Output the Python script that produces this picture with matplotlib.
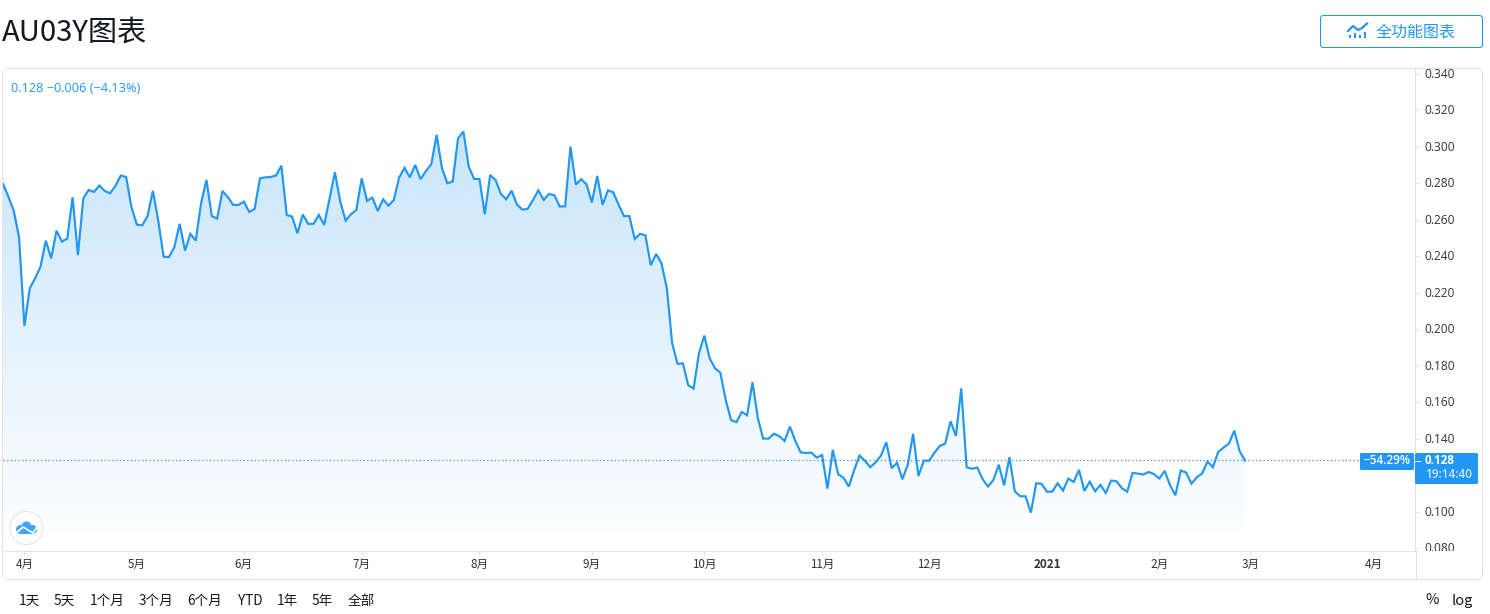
import numpy as np
import matplotlib
matplotlib.use("Agg")
import matplotlib.pyplot as plt
from matplotlib.patches import FancyBboxPatch, Circle, Rectangle, Polygon
from matplotlib.transforms import Bbox, ScaledTranslation

CJK = ['Noto Sans CJK SC', 'DejaVu Sans']
NUM = ['Open Sans', 'Noto Sans CJK SC', 'DejaVu Sans']
plt.rcParams['font.family'] = CJK

title = "AU03Y图表"
button_label = "全功能图表"
legend_text = "0.128 −0.006 (−4.13%)"
change_label = "−54.29%"
last_label = "0.128"
countdown = "19:14:40"
ranges = ["1天", "5天", "1个月", "3个月", "6个月", "YTD", "1年", "5年", "全部"]

values_spring = [
    .2797,.2727,.2651,.2504,.2018,.2225,.2279,.2343,.2486,.2389,.2541,.2481,.2497,.2724,.2407,.2718,
    .2764,.2753,.2788,.2759,.2746,.2786,.2843,.2835,.2669,.2574,.2570,.2621,.2759,.2596,.2398,.2396,
    .2450,.2578,.2431,.2523,.2486,.2691,.2819,.2621,.2607,.2759,.2724,.2682,.2682,.2700,.2643,.2660,
    .2828,.2833,.2835,.2843,.2897,.2627,.2618,.2526,.2629,.2578,.2578,.2627,.2572,.2718,.2861,.2700,
    .2596,.2631,.2654,.2828,.2704,.2722,.2649,.2713,.2678,.2709,.2832,.2885,.2833,.2901,.2823]
values_summer = [
    .2868,.2905,.3066,.2883,.2801,.2810,.3047,.3084,.2892,.2824,.2824,.2631,.2846,.2819,.2742,.2713,
    .2760,.2685,.2656,.2660,.2709,.2762,.2709,.2742,.2735,.2673,.2674,.3002,.2793,.2823,.2795,.2695,
    .2841,.2682,.2762,.2751,.2682,.2621,.2621,.2495,.2523,.2515,.2351,.2413,.2362,.2225]
values_autumn = [
    .1923,.1810,.1813,.1693,.1674,.1868,.1965,.1841,.1786,.1762,.1612,.1502,.1490,.1546,.1528,.1709,
    .1512,.1400,.1400,.1427,.1413,.1387,.1466,.1387,.1325,.1321,.1323,.1296,.1310,.1125,.1338,.1204,
    .1186,.1137,.1228,.1307,.1279,.1243,.1270,.1307,.1380,.1237,.1268,.1177,.1256,.1426,.1195,.1279,
    .1279,.1323,.1360,.1373,.1495,.1415,.1676]
values_winter = [
    .1243,.1235,.1241,.1177,.1137,.1173,.1257,.1144,.1298,.1111,.1084,.1084,.0994,.1155,.1152,.1109,
    .1109,.1155,.1115,.1181,.1162,.1228,.1113,.1164,.1111,.1146,.1102,.1170,.1166,.1128,.1109,.1212,
    .1208,.1203,.1217,.1205,.1181,.1223,.1144,.1089,.1225,.1214,.1153,.1188,.1210,.1274,.1243,.1327,
    .1351,.1373,.1444,.1331,.1280]
values = np.array(values_spring + values_summer + values_autumn + values_winter)
last_value = 0.128

month_index = [4, 25, 45, 67, 89, 110, 131, 153, 173, 195, 216, 233, 256]
month_labels = ["4月", "5月", "6月", "7月", "8月", "9月", "10月", "11月", "12月", "2021", "2月", "3月", "4月"]
price_ticks = [0.08, 0.10, 0.12, 0.14, 0.16, 0.18, 0.20, 0.22, 0.24, 0.26, 0.28, 0.30, 0.32, 0.34]
price_ticks_shown = [p for p in price_ticks if p != 0.12]

W, H = 1490, 614
BLUE = "#2196f3"
GRID = "#e0e3eb"
TXT = "#131722"
LW1 = 0.72
fig = plt.figure(figsize=(W / 100, H / 100), dpi=100, facecolor="white")

bg = fig.add_axes([0, 0, 1, 1], zorder=0)
bg.set_xlim(0, W); bg.set_ylim(H, 0); bg.axis("off")

L, R, T, B = 3, 1415, 68, 551
ax = fig.add_axes([L / W, 1 - B / H, (R - L) / W, (B - T) / H], zorder=1)
ax.patch.set_alpha(0)
n = len(values)
step = (1245 - 3) / (n - 1)
x = np.arange(n)
per_px = 0.26 / (548 - 74)
xlim = (0, (R - L) / step)
ylim = (0.08 - (B - 548) * per_px, 0.34 + (74 - T) * per_px)

fill_bottom = 0.08 + (548 - 533) * per_px
alpha = np.linspace(0.25, 0.012, 256).reshape(-1, 1)
rgba = np.zeros((256, 1, 4))
rgba[..., :3] = matplotlib.colors.to_rgb(BLUE)
rgba[..., 3] = alpha
im = ax.imshow(rgba, extent=[0, n - 1, fill_bottom, values.max() + 0.005], aspect="auto",
               origin="upper", interpolation="bilinear", zorder=1)
poly = Polygon(np.column_stack([np.r_[x, n - 1, 0], np.r_[values, fill_bottom, fill_bottom]]),
               closed=True, transform=ax.transData, facecolor="none", edgecolor="none")
ax.add_patch(poly)
im.set_clip_path(poly)
ax.set_xlim(*xlim)
ax.set_ylim(*ylim)

ax.axhline(last_value, color="#3d8bcb", lw=0.9, ls=(0, (1, 2)), zorder=2)
ax.plot(x, values, color=BLUE, lw=1.55, solid_joinstyle="miter", zorder=3)

for s in ("top", "left"):
    ax.spines[s].set_visible(False)
for s in ("right", "bottom"):
    ax.spines[s].set_color(GRID)
    ax.spines[s].set_linewidth(LW1)

ax.yaxis.tick_right()
ax.set_yticks(price_ticks_shown)
ax.set_yticklabels([f"{p:.3f}" for p in price_ticks_shown], fontsize=8.6, color="#2f323c", family=NUM)
ax.tick_params(axis="y", length=3.2, width=LW1, color=GRID, pad=3.5)
ax.set_xticks(month_index)
ax.set_xticklabels(month_labels, fontsize=8.4, color="#2f323c")
ax.tick_params(axis="x", length=3, width=LW1, color=GRID, pad=2)
for lbl in ax.get_xticklabels():
    if lbl.get_text() == "2021":
        lbl.set_fontweight("bold")
clip = Bbox([[1416, H - 551], [1490, H - 60]])
lift = ScaledTranslation(0, 1 / 100, fig.dpi_scale_trans)
for lbl in ax.get_yticklabels():
    lbl.set_transform(lbl.get_transform() + lift)
    lbl.set_clip_box(clip)
    lbl.set_clip_on(True)

bg.add_patch(FancyBboxPatch((2.5, 68.5), 1480, 511, boxstyle="round,pad=0,rounding_size=6",
                            fc="none", ec=GRID, lw=LW1))
bg.plot([1415.5, 1415.5], [551, 579], color=GRID, lw=LW1)
bg.set_xlim(0, W); bg.set_ylim(H, 0)

top = fig.add_axes([0, 0, 1, 1], zorder=3)
top.set_xlim(0, W); top.set_ylim(H, 0); top.axis("off"); top.patch.set_alpha(0)

top.text(2, 33, title, fontsize=21, color=TXT, va="center", ha="left")
top.text(11, 88, legend_text, fontsize=9.2, color=BLUE, va="center", ha="left", family=NUM)

top.add_patch(FancyBboxPatch((1320.5, 15.5), 162, 32, boxstyle="round,pad=0,rounding_size=3",
                             fc="white", ec=BLUE, lw=LW1))
top.text(1376, 32, button_label, fontsize=11.5, color=BLUE, va="center", ha="left")
top.plot([1348, 1353, 1358, 1362, 1367], [31, 26, 30, 28, 23.5], color=BLUE, lw=1.6)
for bx, bh in zip([1349, 1354, 1359, 1364], [3, 5, 3, 6]):
    top.add_patch(Rectangle((bx, 37.5 - bh), 2, bh, fc=BLUE, ec="none"))

top.add_patch(FancyBboxPatch((1360, 453), 54, 17, boxstyle="round,pad=0,rounding_size=1.5",
                             fc=BLUE, ec="none"))
top.add_patch(FancyBboxPatch((1415, 453), 63, 31, boxstyle="round,pad=0,rounding_size=1.5",
                             fc=BLUE, ec="none"))
top.plot([1415, 1420], [461, 461], color="white", lw=LW1)
top.text(1387, 460.5, change_label, fontsize=8.5, color="white", va="center", ha="center",
         fontweight="semibold", family=NUM)
top.text(1425, 460.5, last_label, fontsize=8.5, color="white", va="center", ha="left",
         fontweight="bold", family=NUM)
top.text(1425, 474.5, countdown, fontsize=8.5, color="#cfe6fb", va="center", ha="left",
         fontweight="semibold", family=NUM)

top.add_patch(Circle((26.5, 528), 16.5, fc="white", ec=GRID, lw=LW1))
for cx, cy, r in [(20.5, 529.5, 4.5), (26.5, 526.5, 5), (32.5, 529.5, 4.5)]:
    top.add_patch(Circle((cx, cy), r, fc="#42a5f5", ec="none"))
top.add_patch(Rectangle((20, 529), 12.5, 5, fc="#42a5f5", ec="none"))
top.plot([16, 23, 28, 33, 37], [533, 527, 530, 533, 527], color="white", lw=1.2)

range_x = [29.5, 64.5, 107, 156, 205, 250, 287, 322, 361]
for rx, rl in zip(range_x, ranges):
    top.text(rx, 601, rl, fontsize=9.8, color=TXT, va="center", ha="center")
top.text(1432, 600.5, "%", fontsize=10.5, color=TXT, va="center", ha="center")
top.text(1462, 600.5, "log", fontsize=10.5, color=TXT, va="center", ha="center")

fig.savefig("out.png", dpi=100)
